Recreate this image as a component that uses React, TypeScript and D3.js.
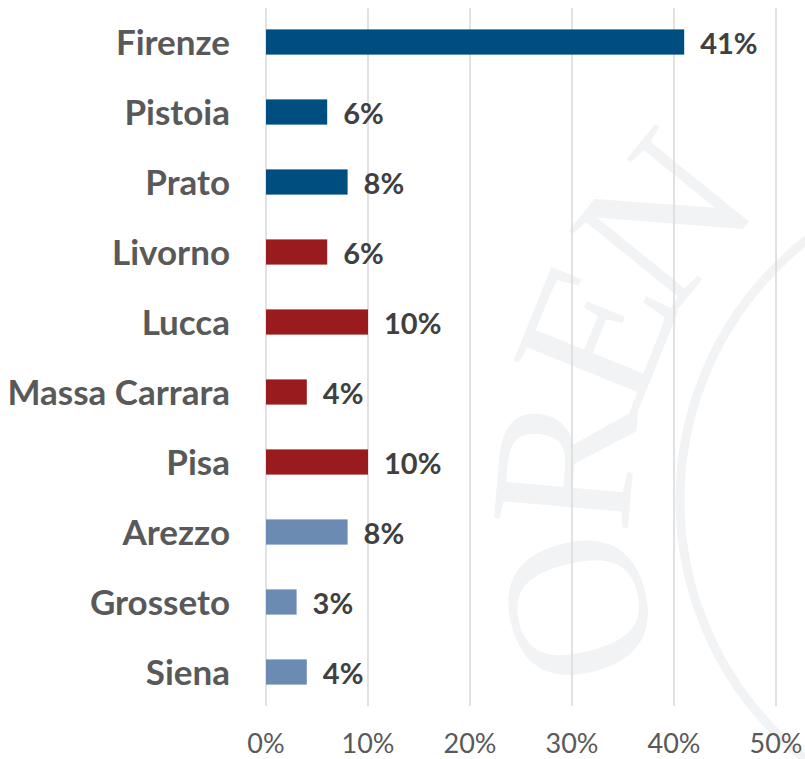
import React from "react";
import * as d3 from "d3";

// provinces of Tuscany, share in %
const provinces = [
  "Firenze",
  "Pistoia",
  "Prato",
  "Livorno",
  "Lucca",
  "Massa Carrara",
  "Pisa",
  "Arezzo",
  "Grosseto",
  "Siena",
];
const shares = [41, 6, 8, 6, 10, 4, 10, 8, 3, 4];
// area group: 0 = centre, 1 = coast, 2 = south
const areas = [0, 0, 0, 1, 1, 1, 1, 2, 2, 2];
const areaColors = ["#004d80", "#9a1b1d", "#6b8bb2"];
const ticks = [0, 10, 20, 30, 40, 50];

// faint seal in the background
const sealLetters = ["O", "R", "E", "N"];
const sealAngles = [166, 185, 202, 219];

const W = 805;
const H = 759;

const App = () => {
  const x = d3.scaleLinear().domain([0, 50]).range([266, 776]);
  const y = d3
    .scaleBand<string>()
    .domain(provinces)
    .range([7, 707])
    .paddingInner(0.64)
    .paddingOuter(0.32);

  const cx = 1010,
    cy = 500,
    r = 450;

  return (
    <svg
      width={W}
      height={H}
      style={{ position: "absolute", left: 0, top: 0, background: "#fff" }}
    >
      {/* watermark */}
      <g fill="#f2f3f5" fontFamily="Liberation Serif" fontSize={205}>
        <circle cx={cx} cy={cy} r={330} fill="none" stroke="#f2f3f5" strokeWidth={9} />
        {sealLetters.map((ch, i) => {
          const a = sealAngles[i];
          const px = cx + r * Math.cos((a * Math.PI) / 180);
          const py = cy + r * Math.sin((a * Math.PI) / 180);
          return (
            <text
              key={ch + i}
              transform={`translate(${px},${py}) rotate(${a + 90})`}
              textAnchor="middle"
              dy="0.35em"
            >
              {ch}
            </text>
          );
        })}
      </g>

      {/* gridlines */}
      <g stroke="#d9d9d9" strokeWidth={1.5}>
        {ticks.map((t) => (
          <line key={t} x1={x(t)} x2={x(t)} y1={8} y2={706} />
        ))}
      </g>

      {/* bars */}
      {provinces.map((p, i) => (
        <rect
          key={p}
          x={x(0)}
          y={y(p)}
          width={x(shares[i]) - x(0)}
          height={y.bandwidth()}
          fill={areaColors[areas[i]]}
        />
      ))}

      {/* category labels */}
      <g fontFamily="Lato" fontWeight="bold" fontSize={35} fill="#595959">
        {provinces.map((p) => (
          <text
            key={p}
            x={230}
            y={(y(p) ?? 0) + y.bandwidth() / 2}
            dy="0.36em"
            textAnchor="end"
          >
            {p}
          </text>
        ))}
      </g>

      {/* value labels */}
      <g fontFamily="Lato" fontWeight="bold" fontSize={29} fill="#404040">
        {provinces.map((p, i) => (
          <text
            key={p}
            x={x(shares[i]) + 16}
            y={(y(p) ?? 0) + y.bandwidth() / 2}
            dy="0.4em"
          >
            {shares[i]}%
          </text>
        ))}
      </g>

      {/* axis tick labels */}
      <g fontFamily="Lato" fontSize={27} fill="#595959" textAnchor="middle">
        {ticks.map((t) => (
          <text key={t} x={x(t)} y={753}>
            {t}%
          </text>
        ))}
      </g>
    </svg>
  );
};

export default App;
